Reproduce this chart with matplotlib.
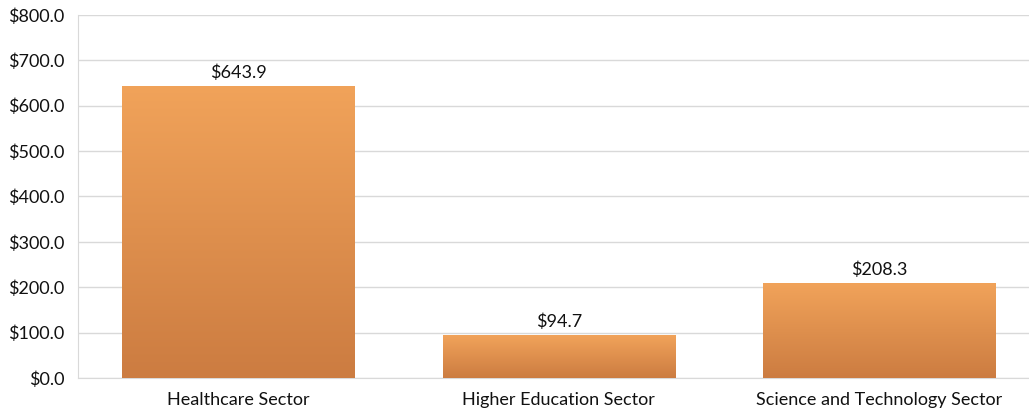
import matplotlib.pyplot as plt
import numpy as np
from matplotlib.colors import LinearSegmentedColormap

sectors = ["Healthcare Sector", "Higher Education Sector", "Science and Technology Sector"]
values = [643.9, 94.7, 208.3]

plt.rcParams['font.family'] = ['Lato', 'DejaVu Sans']

fig = plt.figure(figsize=(10.29, 4.11), dpi=100)
ax = fig.add_axes([78/1029, 33/411, 961.5/1029, 363/411])

x = np.arange(len(sectors))
bars = ax.bar(x, values, width=0.725, color='none', zorder=3)

# vertical orange gradient for each bar
cmap = LinearSegmentedColormap.from_list("orange_grad", ["#CC7C41", "#F1A35A"])
grad = np.linspace(0, 1, 256).reshape(-1, 1)
for b in bars:
    x0, y0 = b.get_x(), b.get_y()
    w, h = b.get_width(), b.get_height()
    im = ax.imshow(grad, cmap=cmap, origin='lower', aspect='auto',
                   extent=[x0, x0 + w, y0, y0 + h], zorder=3)
    im.set_clip_path(b)

for xi, v in zip(x, values):
    ax.text(xi, v + 11, "${:.1f}".format(v), ha='center', va='bottom',
            fontsize=13, color='#111111', zorder=4)

ax.set_xlim(-0.5, 2.5)
ax.set_ylim(0, 800)
ax.set_yticks(np.arange(0, 801, 100))
ax.set_yticklabels(["${:.1f}".format(t) for t in np.arange(0, 801, 100)])
ax.set_xticks(x)
ax.set_xticklabels(sectors)

ax.grid(axis='y', color='#D9D9D9', linewidth=1, zorder=0)
ax.set_axisbelow(True)
for s in ['top', 'right']:
    ax.spines[s].set_visible(False)
ax.spines['left'].set_color('#D9D9D9')
ax.spines['bottom'].set_color('#D9D9D9')
ax.tick_params(axis='both', length=0, labelsize=13, colors='#111111')
ax.tick_params(axis='y', pad=10)
ax.tick_params(axis='x', pad=10)

plt.savefig("out.png", dpi=100)
